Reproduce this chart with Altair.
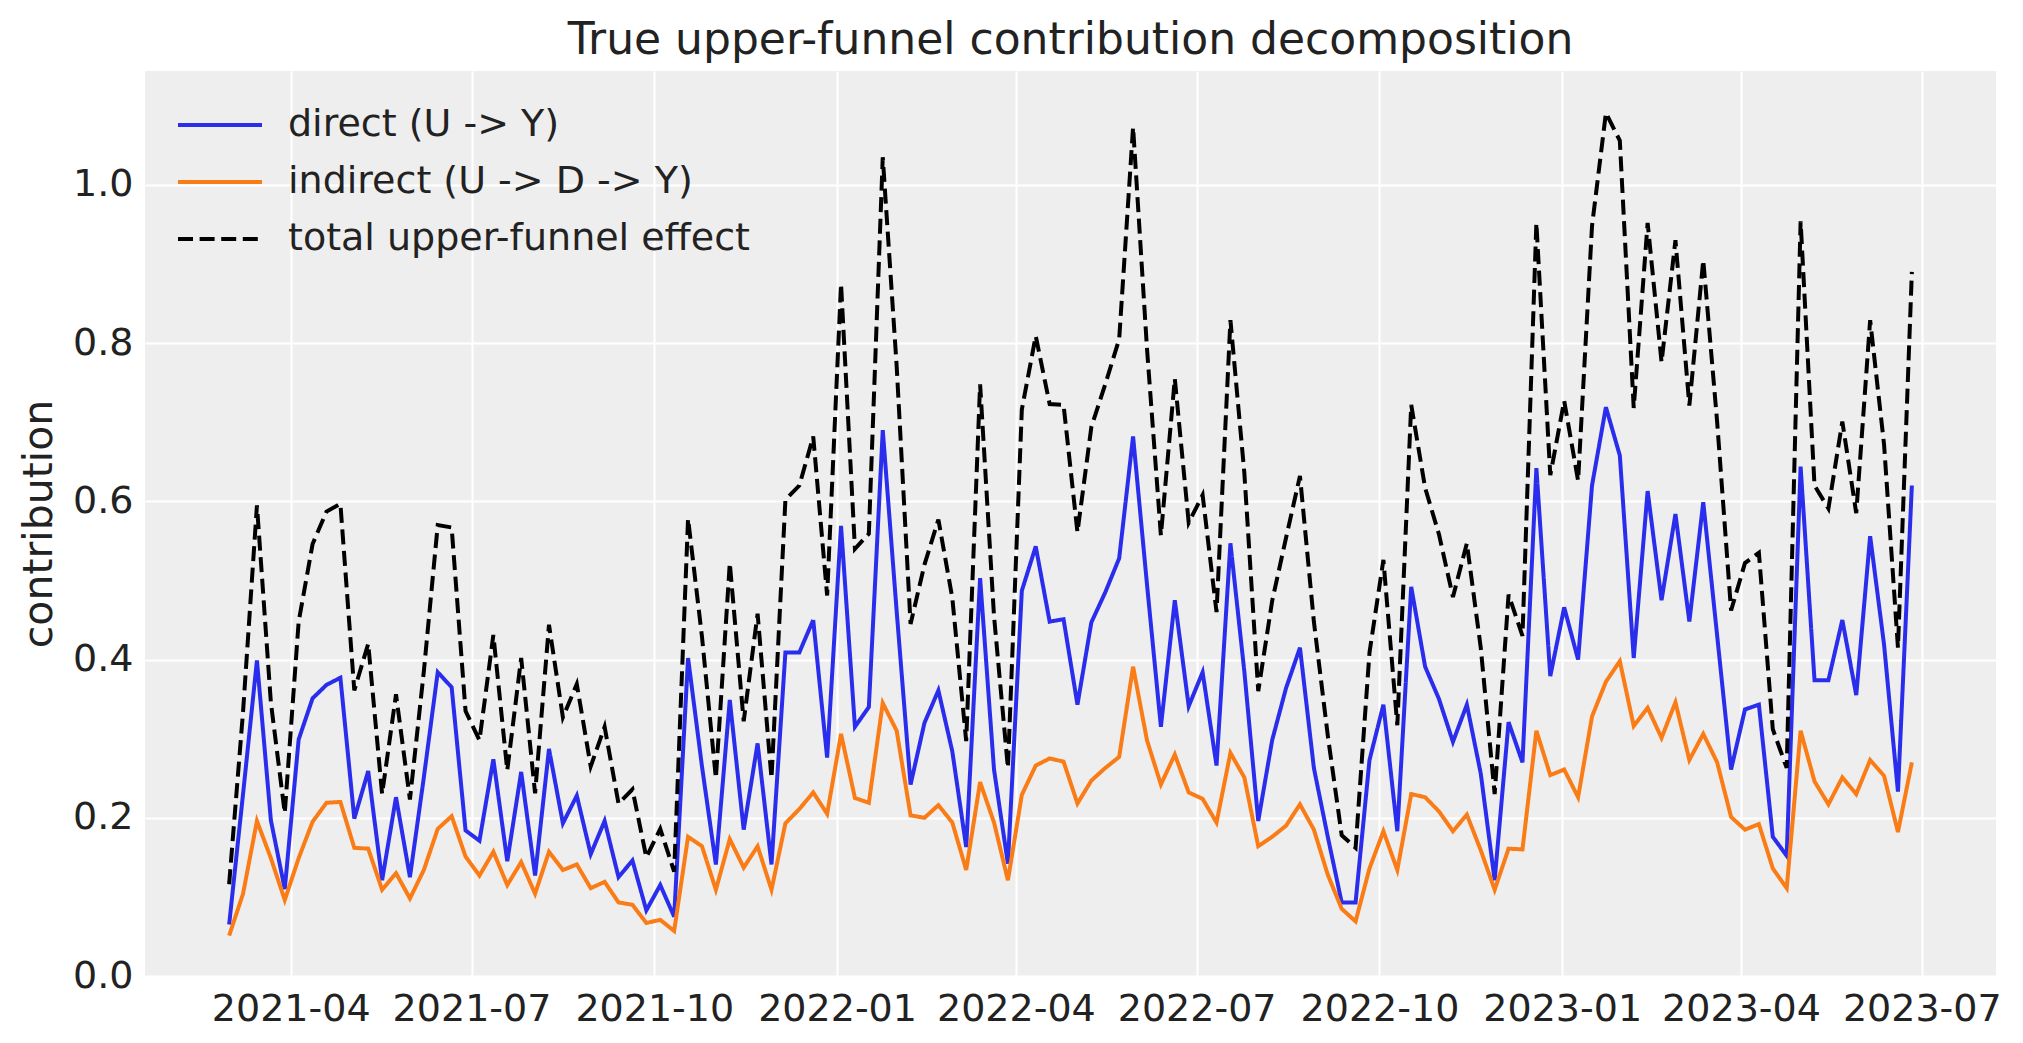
import altair as alt
import pandas as pd

# weekly dates (Mondays), 2021-03-01 .. 2023-06-26
dates = pd.date_range("2021-03-01", periods=122, freq="7D").strftime("%Y-%m-%dT00:00:00").tolist()

direct = [
    0.065, 0.230, 0.399, 0.197, 0.110, 0.299, 0.351, 0.368, 0.377, 0.199, 0.259, 0.121, 0.226, 0.125, 0.251, 0.384,
    0.365, 0.184, 0.171, 0.274, 0.145, 0.258, 0.127, 0.287, 0.193, 0.228, 0.154, 0.196, 0.125, 0.146, 0.083,
    0.115, 0.075, 0.402, 0.265, 0.141, 0.349, 0.185, 0.294, 0.141, 0.409, 0.409, 0.450, 0.276, 0.569, 0.315,
    0.340, 0.690, 0.461, 0.242, 0.320, 0.361, 0.284, 0.163, 0.503, 0.261, 0.142, 0.487, 0.543, 0.448, 0.451,
    0.343, 0.447, 0.485, 0.528, 0.682, 0.495, 0.315, 0.475, 0.341, 0.384, 0.266, 0.547, 0.385, 0.196, 0.298, 0.364,
    0.415, 0.263, 0.176, 0.093, 0.093, 0.273, 0.343, 0.183, 0.492, 0.391, 0.350, 0.296, 0.343, 0.256, 0.121,
    0.321, 0.270, 0.642, 0.379, 0.466, 0.400, 0.620, 0.719, 0.658, 0.402, 0.613, 0.475, 0.584, 0.448, 0.599,
    0.430, 0.261, 0.337, 0.343, 0.176, 0.152, 0.644, 0.374, 0.374, 0.450, 0.355, 0.556, 0.419, 0.233, 0.620,
]

indirect = [
    0.051, 0.104, 0.196, 0.149, 0.096, 0.149, 0.195, 0.219, 0.220, 0.162, 0.161, 0.109, 0.130, 0.098, 0.134, 0.186,
    0.202, 0.151, 0.127, 0.157, 0.115, 0.144, 0.104, 0.157, 0.134, 0.141, 0.111, 0.119, 0.093, 0.090, 0.067,
    0.071, 0.057, 0.176, 0.164, 0.109, 0.173, 0.137, 0.164, 0.109, 0.193, 0.211, 0.232, 0.205, 0.306, 0.225,
    0.219, 0.345, 0.310, 0.203, 0.200, 0.216, 0.194, 0.134, 0.245, 0.194, 0.121, 0.229, 0.266, 0.275, 0.271,
    0.218, 0.247, 0.263, 0.277, 0.391, 0.298, 0.242, 0.280, 0.232, 0.224, 0.194, 0.282, 0.251, 0.164, 0.176, 0.190,
    0.217, 0.185, 0.128, 0.085, 0.069, 0.136, 0.183, 0.134, 0.230, 0.226, 0.208, 0.183, 0.204, 0.159, 0.109,
    0.161, 0.160, 0.310, 0.254, 0.261, 0.226, 0.328, 0.372, 0.398, 0.316, 0.339, 0.301, 0.346, 0.273, 0.306,
    0.270, 0.201, 0.185, 0.192, 0.136, 0.111, 0.310, 0.246, 0.217, 0.251, 0.230, 0.273, 0.253, 0.182, 0.270,
]

total = [
    0.116, 0.334, 0.595, 0.346, 0.206, 0.448, 0.546, 0.587, 0.597, 0.361, 0.420, 0.230, 0.356, 0.223, 0.385, 0.570,
    0.567, 0.335, 0.298, 0.431, 0.260, 0.402, 0.231, 0.444, 0.327, 0.369, 0.265, 0.315, 0.218, 0.236, 0.150,
    0.186, 0.132, 0.578, 0.429, 0.250, 0.522, 0.322, 0.458, 0.250, 0.602, 0.620, 0.682, 0.481, 0.875, 0.540,
    0.559, 1.035, 0.771, 0.445, 0.520, 0.577, 0.478, 0.297, 0.748, 0.455, 0.263, 0.716, 0.809, 0.723, 0.722,
    0.561, 0.694, 0.748, 0.805, 1.073, 0.793, 0.557, 0.755, 0.573, 0.608, 0.460, 0.829, 0.636, 0.360, 0.474, 0.554,
    0.632, 0.448, 0.304, 0.178, 0.162, 0.409, 0.526, 0.317, 0.722, 0.617, 0.558, 0.479, 0.547, 0.415, 0.230,
    0.482, 0.430, 0.952, 0.633, 0.727, 0.626, 0.948, 1.091, 1.056, 0.718, 0.952, 0.776, 0.930, 0.721, 0.905,
    0.700, 0.462, 0.522, 0.535, 0.312, 0.263, 0.954, 0.620, 0.591, 0.701, 0.585, 0.829, 0.672, 0.415, 0.890,
]

series_names = ["direct (U -> Y)", "indirect (U -> D -> Y)", "total upper-funnel effect"]
series_colors = ["#2a2eec", "#fa7c17", "#000000"]
series_dash = [[1, 0], [1, 0], [15, 6.6]]

tick_dates = [
    (2021, 4), (2021, 7), (2021, 10), (2022, 1), (2022, 4), (2022, 7),
    (2022, 10), (2023, 1), (2023, 4), (2023, 7),
]
y_ticks = [0.0, 0.2, 0.4, 0.6, 0.8, 1.0]

rows = []
for name, vals in zip(series_names, [direct, indirect, total]):
    for d, v in zip(dates, vals):
        rows.append({"date": d, "value": v, "series": name})
df = pd.DataFrame(rows)

TXT = "#222222"

legend = alt.Legend(
    title=None,
    orient="none",
    legendX=43,
    legendY=22,
    symbolType="M-1.4,0L1.4,0",
    symbolSize=3600,
    symbolStrokeWidth=4,
    labelFontSize=38,
    labelColor=TXT,
    labelOffset=36,
    labelLimit=0,
    rowPadding=6,
    padding=0,
)

chart = alt.Chart(df).mark_line(strokeWidth=4).encode(
    x=alt.X(
        "date:T",
        title=None,
        scale=alt.Scale(
            domain=[
                alt.DateTime(year=2021, month=1, date=17, hours=15, minutes=36),
                alt.DateTime(year=2023, month=8, date=7, hours=8, minutes=24),
            ]
        ),
        axis=alt.Axis(
            values=[alt.DateTime(year=y, month=m, date=1) for y, m in tick_dates],
            format="%Y-%m",
            labelFontSize=38,
            labelColor=TXT,
            labelPadding=14,
            ticks=False,
            domain=False,
            grid=True,
            gridColor="white",
            gridWidth=2,
            labelFlush=False,
        ),
    ),
    y=alt.Y(
        "value:Q",
        title="contribution",
        scale=alt.Scale(domain=[0, 1.144], nice=False, zero=False),
        axis=alt.Axis(
            values=y_ticks,
            format=".1f",
            labelFontSize=38,
            labelColor=TXT,
            labelPadding=12,
            titleFontSize=41,
            titleFontWeight="normal",
            titleColor=TXT,
            titlePadding=12,
            ticks=False,
            domain=False,
            grid=True,
            gridColor="white",
            gridWidth=2,
        ),
    ),
    color=alt.Color(
        "series:N",
        scale=alt.Scale(domain=series_names, range=series_colors),
        legend=legend,
    ),
    strokeDash=alt.StrokeDash(
        "series:N",
        scale=alt.Scale(domain=series_names, range=series_dash),
        legend=legend,
    ),
).properties(
    width=1851,
    height=905,
    title=alt.Title(
        "True upper-funnel contribution decomposition",
        fontSize=44,
        fontWeight="normal",
        color=TXT,
        anchor="middle",
        offset=8,
    ),
    autosize=alt.AutoSizeParams(type="none"),
    padding={"left": 137, "top": 63, "right": 10, "bottom": 60},
).configure(
    font="DejaVu Sans",
).configure_view(
    fill="#eeeeee",
    stroke=None,
)

chart.save("out.html", embed_options={"renderer": "svg", "actions": False})
